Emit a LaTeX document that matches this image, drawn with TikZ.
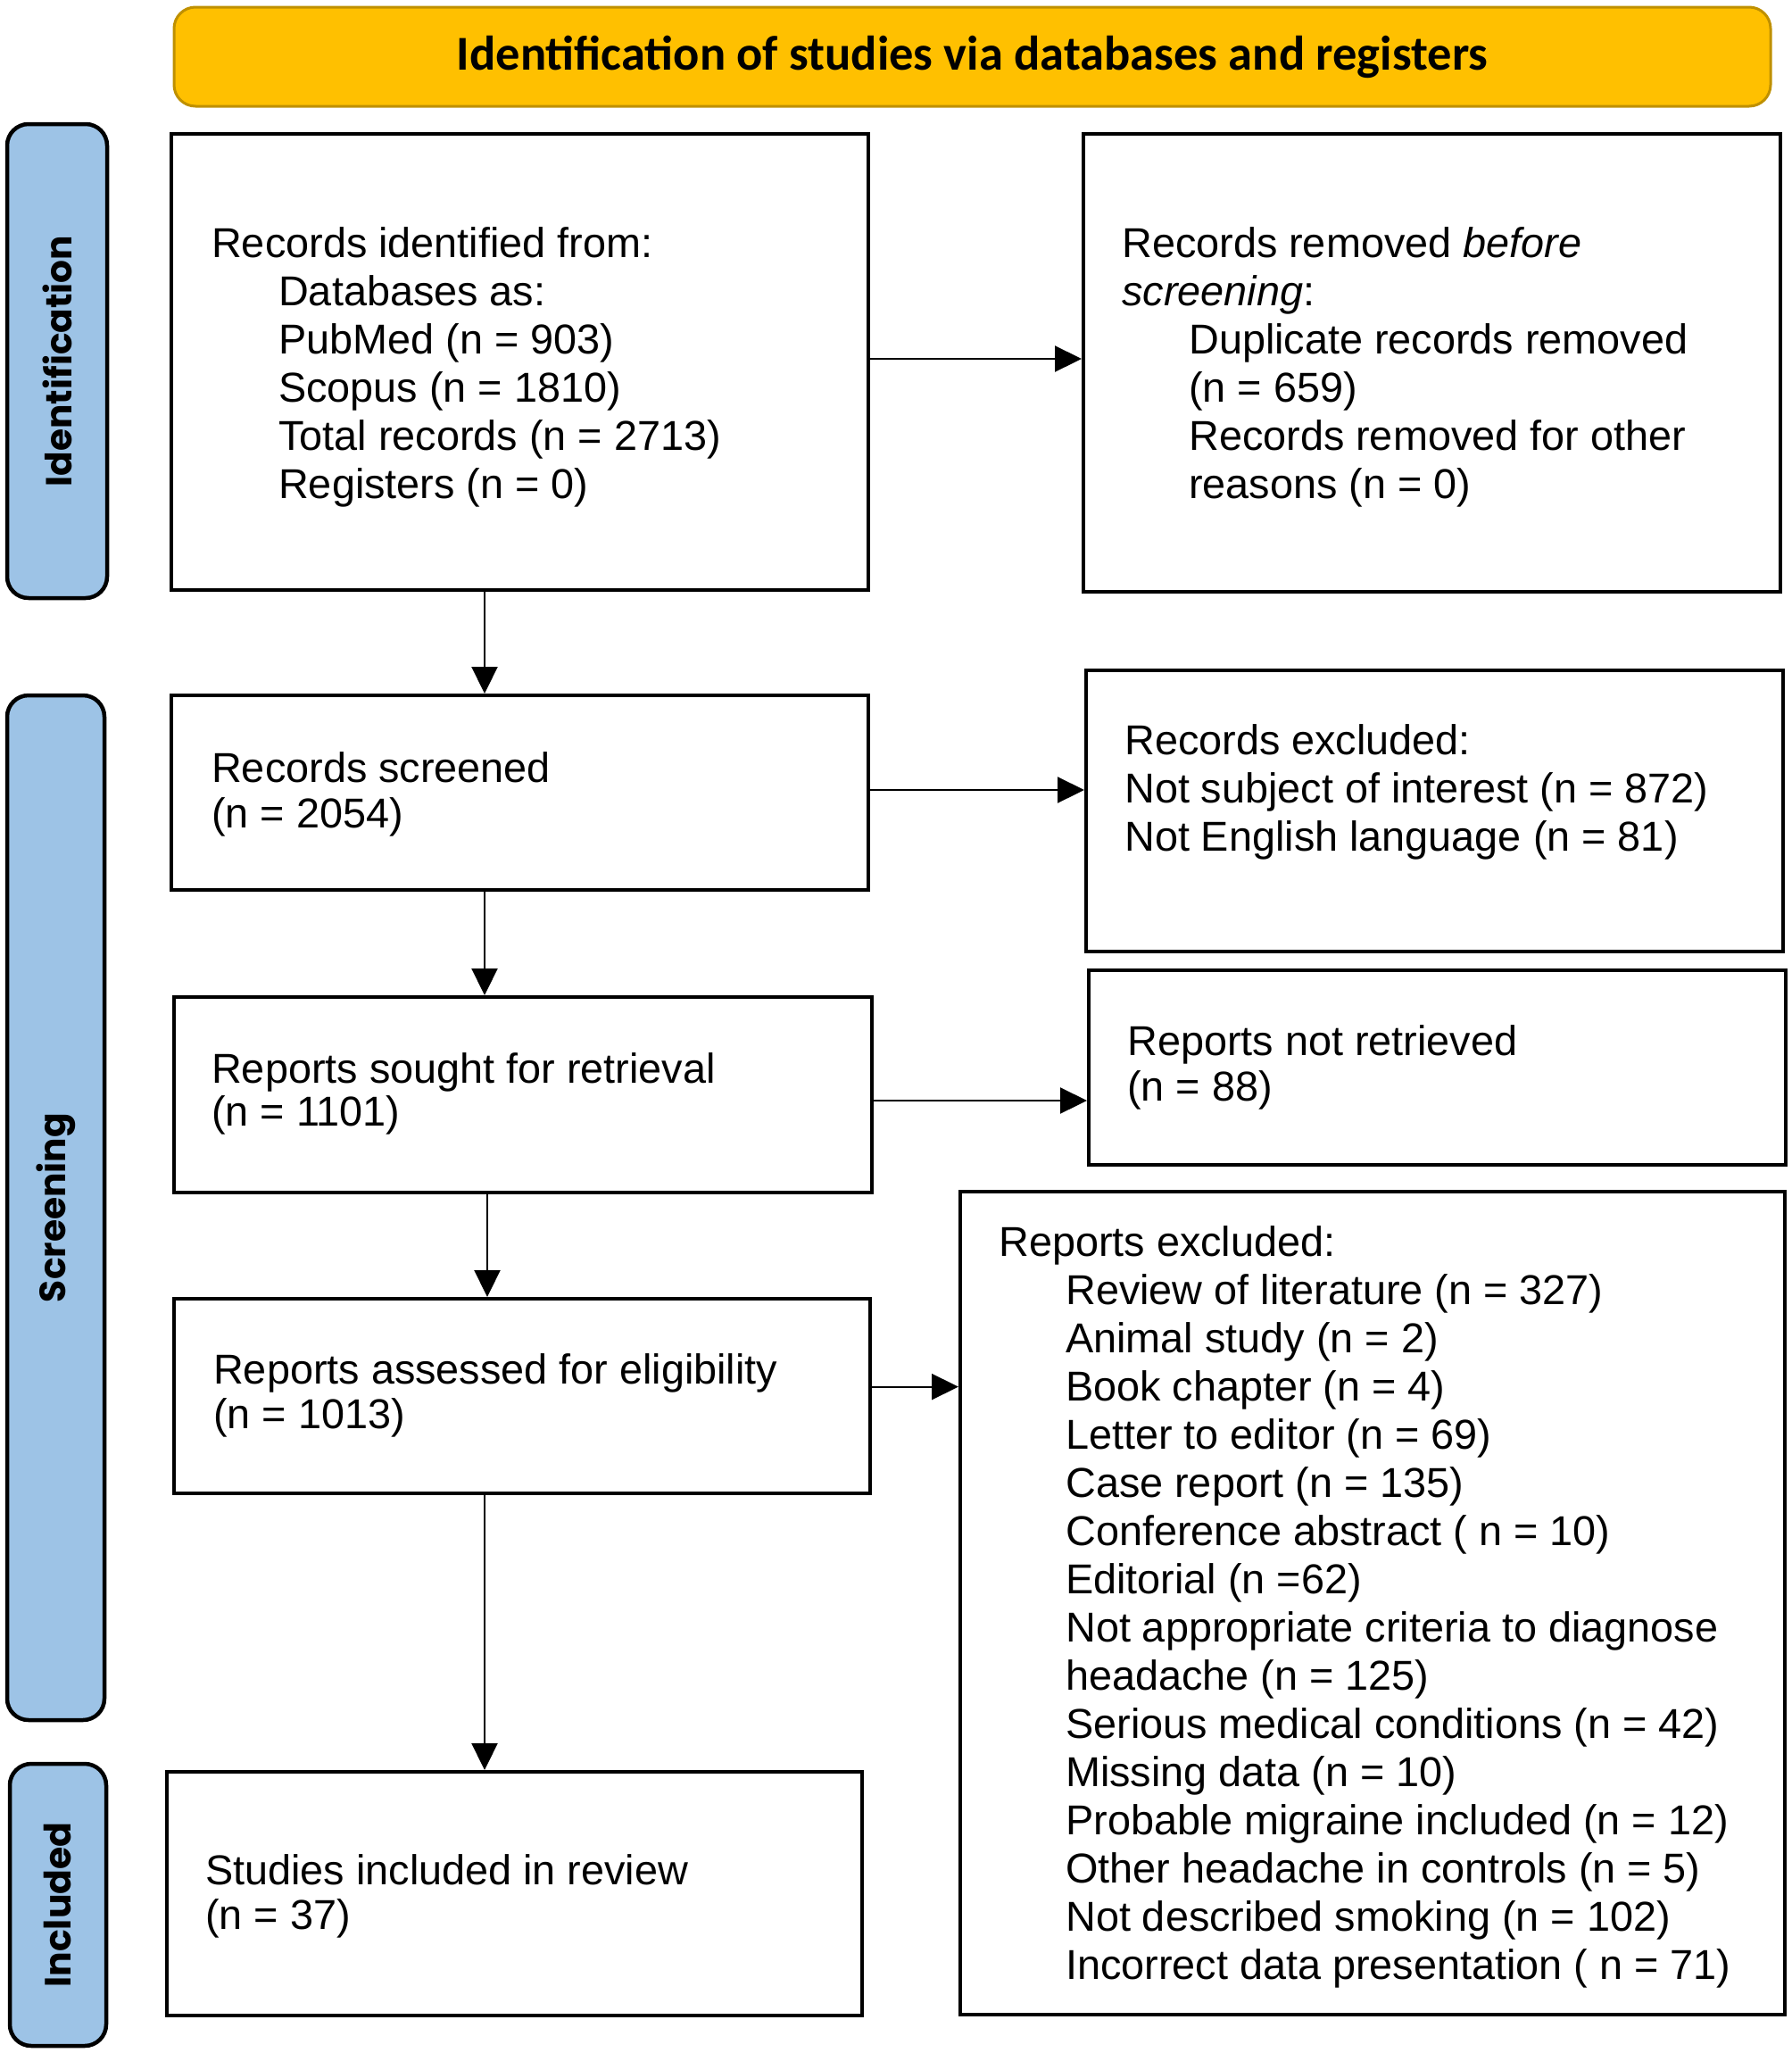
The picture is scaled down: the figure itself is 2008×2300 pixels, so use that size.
\documentclass[tikz,border=0pt]{standalone}
\usepackage{fontspec}
\setmainfont{Liberation Sans}
\newfontfamily\bannerfont{Carlito}
\newfontfamily\sidefont{Poppins}
\usetikzlibrary{arrows.meta}
\newcommand\bodysize{\fontsize{46.8pt}{54pt}\selectfont}
\newcommand\Lblock[2]{\vtop{\baselineskip=#1pt\relax\lineskiplimit=-100pt\relax #2}}
\newcommand\Lh[1]{\hbox{#1}}
\newcommand\Li[1]{\hbox{\hspace*{75pt}#1}}
\definecolor{bannerfill}{HTML}{FFC000}
\definecolor{bannerline}{HTML}{BF9000}
\definecolor{sidefill}{HTML}{9DC3E6}
\begin{document}
\begin{tikzpicture}[x=1pt,y=-1pt,
  box/.style={draw=black, line width=4pt, fill=white, inner sep=0pt},
  txt/.style={inner sep=0pt, anchor=base west, font=\bodysize, align=left},
  side/.style={draw=black, line width=4.5pt, fill=sidefill, rounded corners=24pt, inner sep=0pt, rotate=90},
  banner/.style={draw=bannerline, line width=3pt, fill=bannerfill, rounded corners=24pt, inner sep=0pt},
  arr/.style={line width=2.2pt, -{Triangle[length=30pt,width=29pt]}}]
\useasboundingbox (0,0) rectangle (2008,2300);

% banner
\node[banner, minimum width=1789pt, minimum height=111pt] (ban) at (1089.5,63.5)
  {\resizebox{1155pt}{!}{\bannerfont\bfseries Identification of studies via databases and registers}};

% side labels
\node[side, minimum width=531pt, minimum height=112pt] (sid1) at (64,404.5)
  {\resizebox{281pt}{!}{\sidefont\bfseries Identification}};
\node[side, minimum width=1148pt, minimum height=109pt] (sid2) at (62.5,1353)
  {\resizebox{212pt}{!}{\sidefont\bfseries Screening}};
\node[side, minimum width=316pt, minimum height=108pt] (sid3) at (65,2134)
  {\resizebox{185pt}{!}{\sidefont\bfseries Included}};

% boxes
\node[box, minimum width=781pt, minimum height=511pt] (b1) at (582.5,405.5) {};
\node[box, minimum width=781pt, minimum height=513pt] (b2) at (1604.5,406.5) {};
\node[box, minimum width=781pt, minimum height=218pt] (scr) at (582.5,888) {};
\node[box, minimum width=781pt, minimum height=315pt] (rex) at (1607.5,908.5) {};
\node[box, minimum width=782pt, minimum height=219pt] (sou) at (586,1226.5) {};
\node[box, minimum width=781pt, minimum height=218pt] (nre) at (1610.5,1196) {};
\node[box, minimum width=780pt, minimum height=218pt] (ass) at (585,1564) {};
\node[box, minimum width=924pt, minimum height=922pt] (pex) at (1538,1796) {};
\node[box, minimum width=779pt, minimum height=273pt] (inc) at (576.5,2121.5) {};

% texts
\node[txt] (t1) at (237,288) {\Lblock{54}{%
  \Lh{Records identified from:}
  \Li{Databases as:}
  \Li{PubMed (n = 903)}
  \Li{Scopus (n = 1810)}
  \Li{Total records (n = 2713)}
  \Li{Registers (n = 0)}}};
\node[txt] (t2) at (1257,288) {\Lblock{54}{%
  \Lh{Records removed \textit{before}}
  \Lh{\textit{screening}:}
  \Li{Duplicate records removed}
  \Li{(n = 659)}
  \Li{Records removed for other}
  \Li{reasons (n = 0)}}};
\node[txt] (t3) at (237,876) {\Lblock{51}{%
  \Lh{Records screened}
  \Lh{(n = 2054)}}};
\node[txt] (t4) at (1260,845) {\Lblock{54}{%
  \Lh{Records excluded:}
  \Lh{Not subject of interest (n = 872)}
  \Lh{Not English language (n = 81)}}};
\node[txt] (t5) at (237,1213) {\Lblock{48}{%
  \Lh{Reports sought for retrieval}
  \Lh{(n = 1101)}}};
\node[txt] (t6) at (1263,1182) {\Lblock{51}{%
  \Lh{Reports not retrieved}
  \Lh{(n = 88)}}};
\node[txt] (t7) at (239,1550) {\Lblock{50}{%
  \Lh{Reports assessed for eligibility}
  \Lh{(n = 1013)}}};
\node[txt] (t8) at (1119,1407) {\Lblock{54}{%
  \Lh{Reports excluded:}
  \Li{Review of literature (n = 327)}
  \Li{Animal study (n = 2)}
  \Li{Book chapter (n = 4)}
  \Li{Letter to editor (n = 69)}
  \Li{Case report (n = 135)}
  \Li{Conference abstract ( n = 10)}
  \Li{Editorial (n =62)}
  \Li{Not appropriate criteria to diagnose}
  \Li{headache (n = 125)}
  \Li{Serious medical conditions (n = 42)}
  \Li{Missing data (n = 10)}
  \Li{Probable migraine included (n = 12)}
  \Li{Other headache in controls (n = 5)}
  \Li{Not described smoking (n = 102)}
  \Li{Incorrect data presentation ( n = 71)}}};
\node[txt] (t9) at (230,2111) {\Lblock{50}{%
  \Lh{Studies included in review}
  \Lh{(n = 37)}}};

% horizontal arrows
\coordinate (h1) at ([yshift=3.5pt]b1.east);
\coordinate (h2) at ([yshift=3pt]scr.east);
\coordinate (h3) at ([yshift=-6.5pt]sou.east);
\coordinate (h4) at ([yshift=10.4pt]ass.east);
\draw[arr] (h1) -- (h1 -| b2.west);
\draw[arr] (h2) -- (h2 -| rex.west);
\draw[arr] (h3) -- (h3 -| nre.west);
\draw[arr] (h4) -- (h4 -| pex.west);

% vertical arrows
\coordinate (v1) at ([xshift=-39.5pt]b1.south);
\coordinate (v2) at ([xshift=-39.5pt]scr.south);
\coordinate (v3) at ([xshift=-40pt]sou.south);
\coordinate (v4) at ([xshift=-42pt]ass.south);
\draw[arr] (v1) -- (v1 |- scr.north);
\draw[arr] (v2) -- (v2 |- sou.north);
\draw[arr] (v3) -- (v3 |- ass.north);
\draw[arr] (v4) -- (v4 |- inc.north);
\end{tikzpicture}
\end{document}
